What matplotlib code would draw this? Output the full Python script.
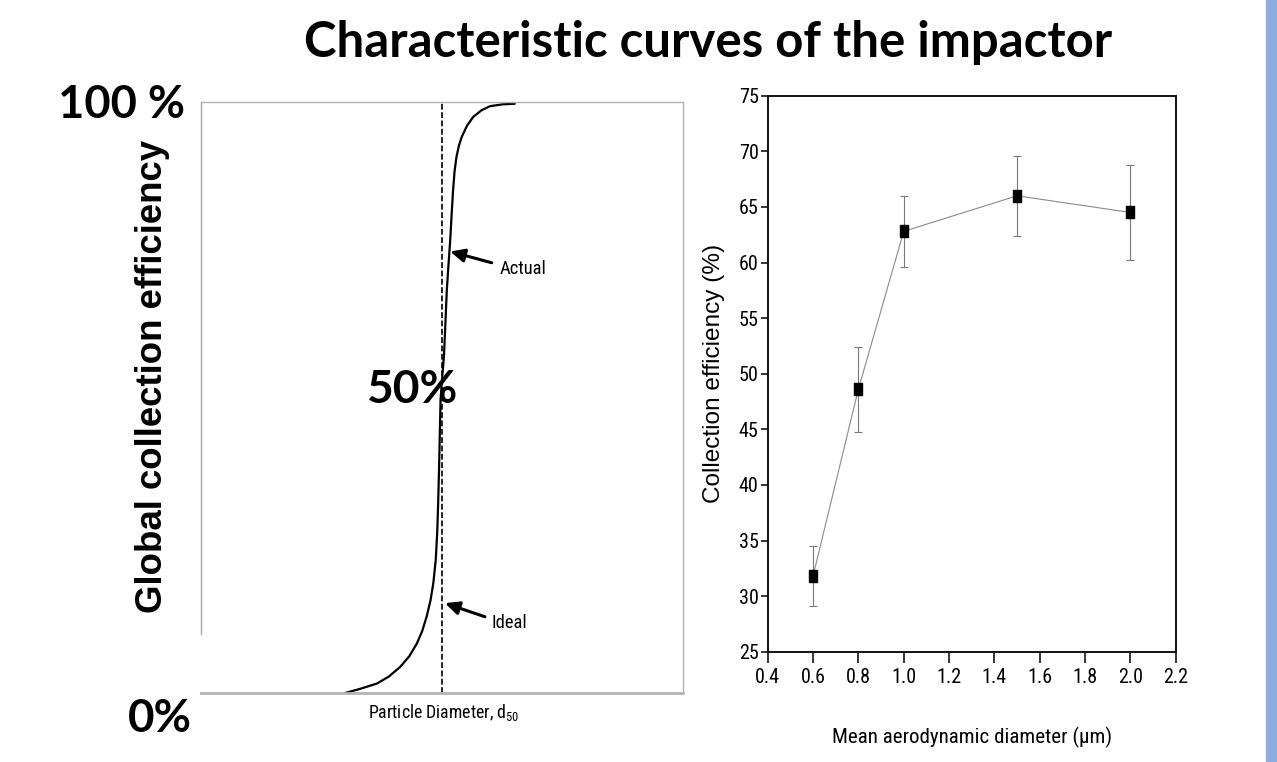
import matplotlib
matplotlib.use("Agg")
import matplotlib.pyplot as plt
from matplotlib.patches import Rectangle
from matplotlib.ticker import FormatStrFormatter
from matplotlib import font_manager as fm

# ---------------- data ----------------
# schematic characteristic curve (left panel), x in relative units (d50 = 50), y in %
curve_x = [29.9, 33.0, 36.5, 39.0, 41.3, 43.2, 44.8, 45.9, 46.8, 47.6, 48.2, 48.7,
           49.0, 49.2, 49.4, 49.55, 49.7, 50.0, 50.4, 50.7, 51.0, 51.35, 51.7, 52.0,
           52.3, 52.6, 53.0, 53.5, 54.1, 55.2, 56.5, 58.2, 60.0, 62.5, 65.1]
curve_y = [0.0, 0.7, 1.6, 2.8, 4.4, 6.2, 8.4, 10.5, 12.9, 15.6, 18.6, 22.5,
           27.0, 32.0, 38.3, 44.0, 49.6, 53.0, 56.9, 62.5, 68.2, 72.5, 76.6, 81.0,
           85.1, 88.2, 90.7, 92.6, 94.1, 96.0, 97.5, 98.6, 99.3, 99.6, 99.7]
d50 = 50.0

# measured collection efficiency (right panel)
diam = [0.6, 0.8, 1.0, 1.5, 2.0]
eff = [31.8, 48.6, 62.8, 66.0, 64.5]
eff_err = [2.7, 3.8, 3.2, 3.6, 4.3]
x_ticks = [0.4, 0.6, 0.8, 1.0, 1.2, 1.4, 1.6, 1.8, 2.0, 2.2]
y_ticks = [25, 30, 35, 40, 45, 50, 55, 60, 65, 70, 75]

title = "Characteristic curves of the impactor"
left_ylabel = "Global collection efficiency"
right_ylabel = "Collection efficiency (%)"
right_xlabel = "Mean aerodynamic diameter (\u00b5m)"

W, H = 1277, 762
fig = plt.figure(figsize=(W / 100, H / 100), dpi=100)
fig.patch.set_facecolor("white")

def fx(x):
    return x / W

def fy(y):
    return 1 - y / H

# pick a condensed sans font if one is installed
def pick_narrow():
    best = None
    best_score = -1
    for f in fm.fontManager.ttflist:
        name = f.name
        if f.style != "normal":
            continue
        w = f.weight if isinstance(f.weight, int) else 400
        if w != 400:
            continue
        score = -1
        if "Liberation Sans Narrow" in name:
            score = 5
        elif name == "Roboto Condensed":
            score = 4
        elif "Condensed" in name or "Narrow" in name:
            score = 3
        elif f.stretch in ("condensed", "semi-condensed") and "Sans" in name and "Mono" not in name:
            score = 2
        if "Mono" in name or "Serif" in name:
            score = min(score, 1) if score > 0 else score
        if score > best_score:
            best_score = score
            best = f
    if best is not None and best_score > 0:
        return fm.FontProperties(fname=best.fname), True
    return fm.FontProperties(family=["Liberation Sans", "DejaVu Sans"]), False

NARROW_FP, HAVE_NARROW = pick_narrow()
BOLD = ["Lato", "Open Sans", "DejaVu Sans"]
ARIAL = ["Liberation Sans", "DejaVu Sans"]

def narrow_text(x, y, s, size, **kw):
    fp = NARROW_FP.copy()
    fp.set_size(size)
    return fig.text(x, y, s, fontproperties=fp, **kw)

# ---------------- left panel ----------------
axL = fig.add_axes([fx(201), fy(693), fx(683) - fx(201), fy(102) - fy(693)])
axL.set_xlim(0, 100)
axL.set_ylim(0, 100)
axL.set_xticks([])
axL.set_yticks([])
for s in ["top", "right"]:
    axL.spines[s].set_color("#b4b4b4")
    axL.spines[s].set_linewidth(1.0)
axL.spines["bottom"].set_color("#b4b4b4")
axL.spines["bottom"].set_linewidth(2.0)
axL.spines["left"].set_color("#a8a8a8")
axL.spines["left"].set_linewidth(1.0)
axL.spines["left"].set_bounds(10, 100)

axL.plot(curve_x, curve_y, color="black", lw=1.6, solid_capstyle="round",
         solid_joinstyle="round")
axL.axvline(d50, color="black", lw=1.2, linestyle=(0, (3.5, 1.5)))

arrow_style = "-|>,head_length=0.85,head_width=0.4"
axL.annotate("", xy=(51.7, 74.7), xytext=(60.3, 72.8),
             arrowprops=dict(arrowstyle=arrow_style, lw=2.2, color="black",
                             shrinkA=0, shrinkB=0))
axL.annotate("", xy=(50.6, 15.2), xytext=(58.9, 12.9),
             arrowprops=dict(arrowstyle=arrow_style, lw=2.2, color="black",
                             shrinkA=0, shrinkB=0))

renderer = fig.canvas.get_renderer()

def fit_w(t, target):
    w = t.get_window_extent(renderer).width
    t.set_fontsize(t.get_fontsize() * target / w)

def fit_h(t, target):
    h = t.get_window_extent(renderer).height
    t.set_fontsize(t.get_fontsize() * target / h)

boost = 1.12 if HAVE_NARROW else 1.15

t = narrow_text(fx(500), fy(274.3), "Actual", 14, ha="left", va="baseline")
fit_w(t, 42 * boost)
t = narrow_text(fx(491.7), fy(627.7), "Ideal", 14, ha="left", va="baseline")
fit_w(t, 32 * boost)
t = narrow_text(fx(444), fy(718.3), r"Particle Diameter, d$_{\mathregular{50}}$", 13,
                ha="center", va="baseline")
fit_w(t, 135 * boost)

# big bold labels
t = fig.text(fx(708.5), fy(57), title, family=BOLD, weight="bold", fontsize=28,
             ha="center", va="baseline")
fit_w(t, 807)
t = fig.text(fx(185), fy(118.3), "100 %", family=BOLD, weight="bold", fontsize=28,
             ha="right", va="baseline")
fit_w(t, 127)
t = fig.text(fx(458), fy(403.3), "50%", family=BOLD, weight="bold", fontsize=30,
             ha="right", va="baseline")
fit_w(t, 91)
t = fig.text(fx(128), fy(731.7), "0%", family=BOLD, weight="bold", fontsize=30,
             ha="left", va="baseline")
fit_w(t, 64)
t = fig.text(fx(152), fy(376.5), left_ylabel, family=ARIAL, weight="bold", fontsize=22,
             rotation=90, ha="center", va="center")
fit_h(t, 473)

# ---------------- right panel ----------------
axR = fig.add_axes([fx(767.7), fy(651.7), fx(1175.7) - fx(767.7), fy(95.7) - fy(651.7)])
axR.errorbar(diam, eff, yerr=eff_err, fmt="none", ecolor="#7a7a7a", elinewidth=0.8,
             capsize=2.6, capthick=0.8, zorder=2)
axR.plot(diam, eff, color="#8a8a8a", lw=0.8, zorder=3)
rect = [(-0.6, -1), (0.6, -1), (0.6, 1), (-0.6, 1), (-0.6, -1)]
axR.plot(diam, eff, linestyle="none", marker=rect, markersize=9,
         color="black", zorder=4)
axR.set_xlim(0.4, 2.2)
axR.set_ylim(25, 75)
axR.set_xticks(x_ticks)
axR.set_yticks(y_ticks)
axR.xaxis.set_major_formatter(FormatStrFormatter("%.1f"))
tick_size = 14.5 if HAVE_NARROW else 13
axR.tick_params(axis="y", direction="out", length=5, width=1.1, pad=1.5)
axR.tick_params(axis="x", direction="out", length=8, width=1.1, pad=4)
for lab in axR.get_xticklabels() + axR.get_yticklabels():
    fp = NARROW_FP.copy()
    fp.set_size(tick_size)
    lab.set_fontproperties(fp)
for s in axR.spines.values():
    s.set_linewidth(1.4)
    s.set_color("#111111")

t = fig.text(fx(714), fy(373.7), right_ylabel, family=ARIAL, fontsize=15,
             rotation=90, ha="center", va="center")
fit_h(t, 260)
t = narrow_text(fx(971.7), fy(743), right_xlabel, 15, ha="center", va="baseline")
fit_w(t, 250 * boost)

# blue stripe on the right edge
fig.add_artist(Rectangle((fx(1266), 0), fx(W) - fx(1266), 1, transform=fig.transFigure,
                         color="#8FAADC", zorder=0))

fig.savefig("out.png", dpi=100, facecolor="white")
